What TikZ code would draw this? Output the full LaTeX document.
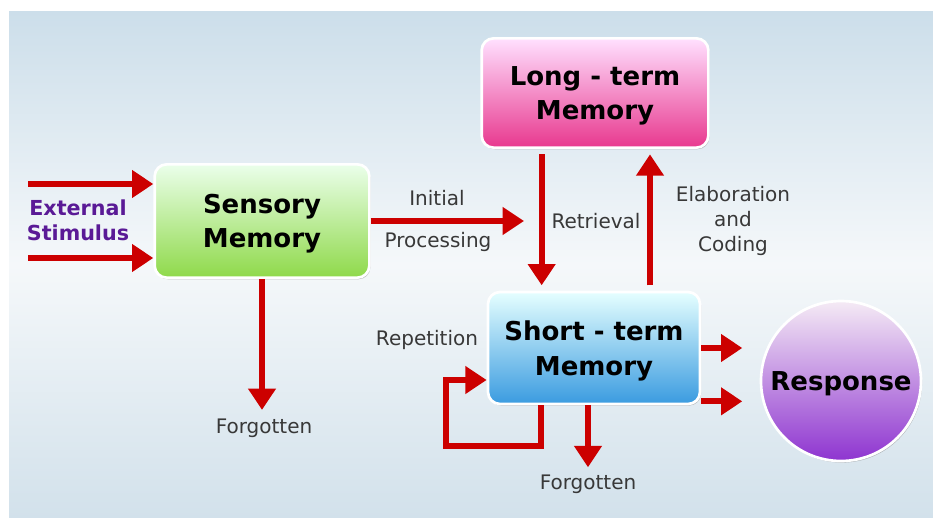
\documentclass[tikz,border=0pt]{standalone}
\usepackage{fontspec}
\setmainfont{DejaVu Sans}
\usepackage{tikz}
\usetikzlibrary{arrows.meta,shadows,positioning}
\tikzset{>={Triangle[length=16pt,width=20pt]}}
\usepackage{xcolor}
\definecolor{flowred}{HTML}{CC0000}
\definecolor{stimpurple}{HTML}{5A1A96}
\definecolor{lblgray}{HTML}{383838}
\definecolor{bgtop}{HTML}{CCDEEA}
\definecolor{bgmid}{HTML}{F5F8FA}
\definecolor{bgbot}{HTML}{D2E1EB}
\tikzstyle{mem} = [rectangle, rounded corners=9pt, draw=white, line width=2pt, align=center,
  font=\fontsize{19.5}{26}\selectfont\bfseries, text depth=0pt,
  drop shadow={shadow xshift=0.8pt, shadow yshift=-1.2pt, opacity=0.45, fill=black!55}]
\tikzstyle{flow} = [->, draw=flowred, line width=4.5pt, line join=miter]
\tikzstyle{lbl} = [font=\fontsize{15}{19}\selectfont, text=lblgray, align=center]

\begin{document}
\begin{tikzpicture}[x=0.75pt, y=-0.75pt]
    \useasboundingbox (0,0) rectangle (933,518);
    % backdrop
    \shade[top color=bgtop, bottom color=bgbot, middle color=bgmid] (9,11) rectangle (933,518);

    \node [mem, minimum width=161pt, minimum height=85pt, top color=green!8!white, bottom color={rgb,255:red,143;green,217;blue,74}]
        (sens) at (262,221) {Sensory\\Memory};
    \node [mem, minimum width=170pt, minimum height=82pt, top color=magenta!12!white, bottom color={rgb,255:red,232;green,56;blue,142}]
        (ltm) at (595,93) {Long - term\\Memory};
    \node [mem, minimum width=159pt, minimum height=84pt, top color=cyan!10!white, bottom color={rgb,255:red,58;green,155;blue,224}]
        (stm) at (594,348) {Short - term\\Memory};
    \node [mem, circle, minimum size=120pt, top color=violet!8!white, bottom color={rgb,255:red,142;green,52;blue,208}]
        (resp) at (841,381) {Response};

    \node [lbl, font=\fontsize{15.5}{19}\selectfont\bfseries, text=stimpurple] (stim) at (78,220) {External\\Stimulus};
    \node [lbl] (initial) at (437,198) {Initial};
    \node [lbl] (proc) at (438,242) {Processing};
    \node [lbl] (retr) at (596,221) {Retrieval};
    \node [lbl] (elab) at (733,221) {Elaboration\\and\\Coding};
    \node [lbl] (rep) at (427,340) {Repetition};
    \node [lbl] (forg1) at (264,428) {Forgotten};
    \node [lbl] (forg2) at (588,484) {Forgotten};

    % incoming stimulus
    \foreach \id/\y in {1/184, 2/258}
    {
        \coordinate (ext\id) at (28,\y);
        \draw [flow] (ext\id) -- (ext\id -| sens.west);
    }
    \coordinate (init) at (524,221);
    \draw [flow] (sens.east) -- (init);
    \draw [flow] (sens.south) -- ([yshift=3pt]sens.south |- forg1.north);

    \draw [flow, shorten <=4pt, shorten >=4pt] ([xshift=-40pt]ltm.south) -- ([xshift=-40pt]ltm.south |- stm.north);
    \draw [flow, shorten <=4pt, shorten >=4pt] ([xshift=42pt]stm.north) -- ([xshift=42pt]stm.north |- ltm.south);

    \foreach \dy in {0,-40}
        \draw [flow, shorten >=13pt] ([yshift=\dy pt]stm.east) -- ([yshift=\dy pt]stm.east -| resp.west);
    \draw [flow] (stm.south -| forg2) -- ([yshift=2pt]forg2.north);

    % rehearsal loop
    \coordinate (loop) at (446,446);
    \draw [flow] ([xshift=-40pt]stm.south) |- (loop) |- ([yshift=-24pt]stm.west);
\end{tikzpicture}
\end{document}
